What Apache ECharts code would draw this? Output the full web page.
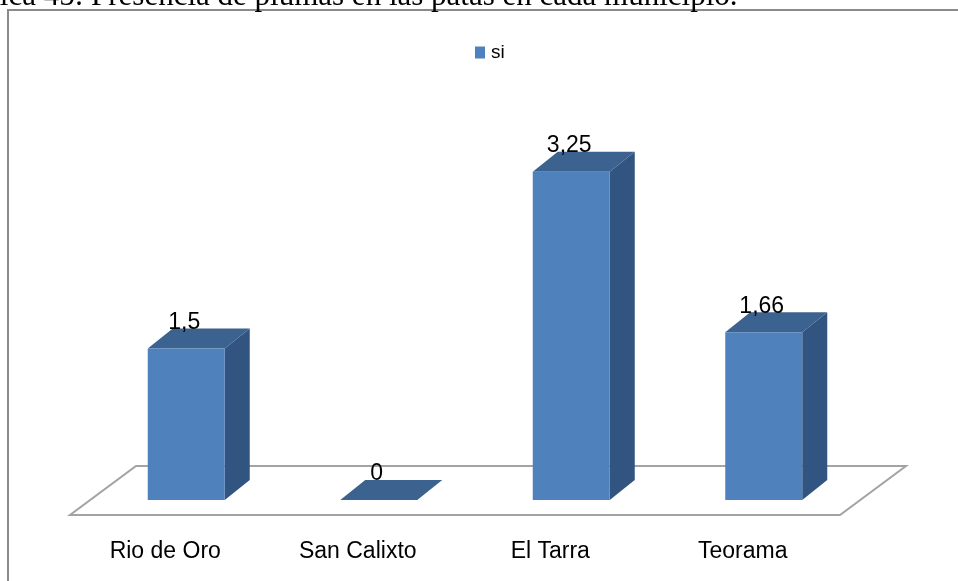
<!DOCTYPE html>
<html>
<head>
<meta charset="utf-8">
<script src="https://cdn.jsdelivr.net/npm/echarts@6/dist/echarts.min.js"></script>
<style>
  html, body { margin: 0; padding: 0; background: #fff; }
  #chart { width: 958px; height: 581px; }
</style>
</head>
<body>
<div id="chart"></div>
<script>
// Municipalities and the "si" values per municipality
const categories = ['Rio de Oro', 'San Calixto', 'El Tarra', 'Teorama'];
const siValues = [1.5, 0, 3.25, 1.66];
const seriesName = 'si';
const titleText = 'Gráfica 45: Presencia de plumas en las patas en cada municipio.';

const FRONT = '#4F81BD';
const TOP = '#3C6290';
const SIDE = '#325480';
const FLOOR = '#A3A3A3';
const LABEL_FONT = '"Liberation Sans", Arial, sans-serif';

// 3D depth of each column (px)
const DEPTH_X = 25, DEPTH_Y = -20;

function fmt(v) {
  return String(v).replace('.', ',');
}

function renderBar(params, api) {
  const idx = api.value(0);
  const val = api.value(1);
  const base = api.coord([idx, 0]);
  const top = api.coord([idx, val]);
  const bandW = api.size([1, 0])[0];
  const barW = bandW * 0.4;
  const x0 = base[0] - barW / 2;
  const x1 = base[0] + barW / 2;
  const yT = top[1];
  const yB = base[1];
  const children = [];

  // floor plane, drawn once behind the columns
  if (params.dataIndex === 0) {
    const cs = params.coordSys;
    const L = cs.x, R = cs.x + cs.width, B = cs.y + cs.height;
    children.push({
      type: 'polygon',
      shape: { points: [[L - 20, B + 15], [R - 20, B + 15], [R + 46, B - 34], [L + 46, B - 34]] },
      style: { fill: '#fff', stroke: FLOOR, lineWidth: 2 }
    });
  }

  // side face
  children.push({
    type: 'polygon',
    shape: { points: [[x1, yT], [x1 + DEPTH_X, yT + DEPTH_Y], [x1 + DEPTH_X, yB + DEPTH_Y], [x1, yB]] },
    style: { fill: SIDE }
  });
  // top face
  children.push({
    type: 'polygon',
    shape: { points: [[x0, yT], [x1, yT], [x1 + DEPTH_X, yT + DEPTH_Y], [x0 + DEPTH_X, yT + DEPTH_Y]] },
    style: { fill: TOP }
  });
  // front face
  if (yB - yT > 0) {
    children.push({
      type: 'rect',
      shape: { x: x0, y: yT, width: barW, height: yB - yT },
      style: { fill: FRONT }
    });
  }
  // value label
  children.push({
    type: 'text',
    x: base[0] - 2,
    y: yT - 26,
    style: {
      text: fmt(val),
      fill: '#000',
      font: '23px ' + LABEL_FONT,
      align: 'center',
      verticalAlign: 'middle'
    }
  });
  return { type: 'group', children: children };
}

const chart = echarts.init(document.getElementById('chart'), null, { renderer: 'canvas' });

chart.setOption({
  backgroundColor: '#fff',
  animation: false,
  graphic: [
    {
      type: 'rect',
      shape: { x: 8, y: 10, width: 1200, height: 800 },
      style: { fill: 'none', stroke: '#8A8A8A', lineWidth: 2 },
      z: 0
    },
    {
      type: 'text',
      x: -57,
      y: -3,
      style: {
        text: titleText,
        fill: '#000',
        font: '31px "Liberation Serif", "Times New Roman", serif',
        align: 'left',
        verticalAlign: 'middle'
      },
      z: 10
    }
  ],
  legend: {
    data: [seriesName],
    left: 475,
    top: 43,
    padding: 0,
    icon: 'rect',
    itemWidth: 10,
    itemHeight: 12,
    itemGap: 6,
    textStyle: { fontSize: 19, fontFamily: LABEL_FONT, color: '#000', padding: [0, 0, 0, 1] }
  },
  grid: { left: 90, right: 98, top: 96, bottom: 81 },
  xAxis: {
    type: 'category',
    data: categories,
    axisLine: { show: false },
    axisTick: { show: false },
    splitLine: { show: false },
    axisLabel: {
      margin: 40,
      fontSize: 23,
      fontFamily: LABEL_FONT,
      color: '#000',
      padding: [0, 42, 0, 0]
    }
  },
  yAxis: {
    type: 'value',
    min: 0,
    max: 4,
    show: false
  },
  series: [{
    type: 'custom',
    name: seriesName,
    itemStyle: { color: FRONT },
    renderItem: renderBar,
    encode: { x: 0, y: 1 },
    data: siValues.map((v, i) => [i, v]),
    z: 5
  }]
});
</script>
</body>
</html>
